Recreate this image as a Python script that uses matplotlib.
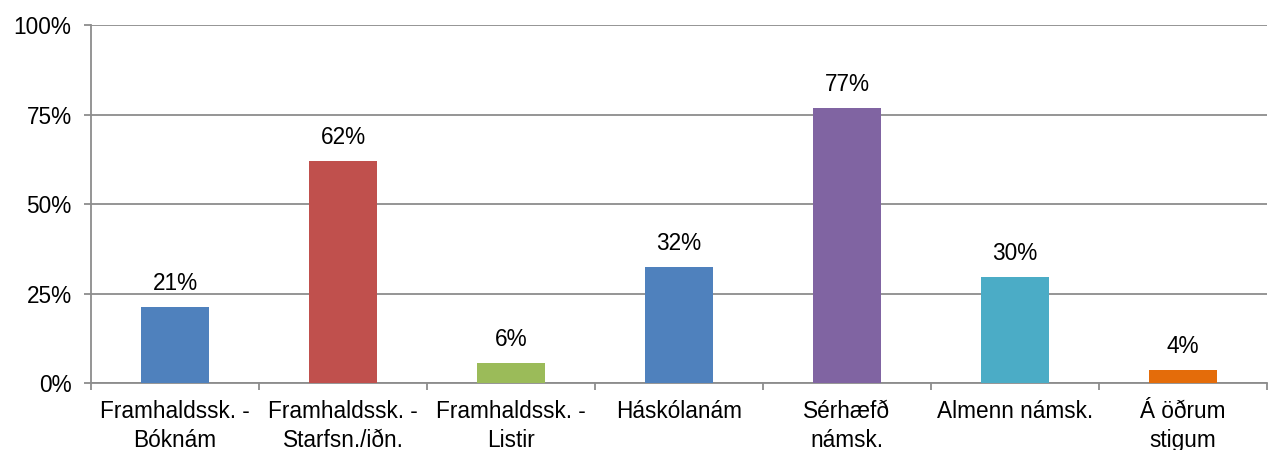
import numpy as np
import matplotlib.pyplot as plt
from matplotlib.ticker import FixedLocator

plt.rcParams['font.family'] = ['Liberation Sans', 'DejaVu Sans']

categories = ['Framhaldssk. -\nBóknám', 'Framhaldssk. -\nStarfsn./iðn.', 'Framhaldssk. -\nListir',
              'Háskólanám', 'Sérhæfð\nnámsk.', 'Almenn námsk.', 'Á öðrum\nstigum']
values = [21.3, 62.1, 5.5, 32.4, 76.8, 29.7, 3.7]
labels = ['21%', '62%', '6%', '32%', '77%', '30%', '4%']
colors = ['#4F81BD', '#C0504D', '#9BBB59', '#4F81BD', '#8064A2', '#4BACC6', '#E46C0A']
yticks = [0, 25, 50, 75, 100]

fs = 16.3
fig = plt.figure(figsize=(12.72, 4.5), dpi=100)
ax = fig.add_axes([0.0715, 0.149, 0.9245, 0.795])

x = np.arange(len(categories))
ax.bar(x, values, width=0.4, color=colors, zorder=3)
for xi, v, lab in zip(x, values, labels):
    ax.text(xi, v + 4.7, lab, ha='center', va='baseline', fontsize=fs, color='black')

ax.set_xlim(-0.5, len(categories) - 0.5)
ax.set_ylim(0, 100)
ax.set_yticks(yticks)
ax.set_yticklabels([f'{t}%' for t in yticks], fontsize=fs)
ax.yaxis.grid(True, color='#8c8c8c', linewidth=1.3, zorder=0)

ax.set_xticks(x)
ax.set_xticklabels(categories, fontsize=fs, linespacing=1.3)
ax.tick_params(axis='x', length=0, pad=12.5)
ax.xaxis.set_minor_locator(FixedLocator(np.arange(-0.5, len(categories), 1.0)))
ax.tick_params(axis='x', which='minor', length=5, color='#8c8c8c', width=1.3)
ax.tick_params(axis='y', length=5, color='#8c8c8c', width=1.3, pad=9)

for s in ['top', 'right']:
    ax.spines[s].set_visible(False)
for s in ['left', 'bottom']:
    ax.spines[s].set_color('#8c8c8c')
    ax.spines[s].set_linewidth(1.3)

fig.savefig('out.png', dpi=100)
